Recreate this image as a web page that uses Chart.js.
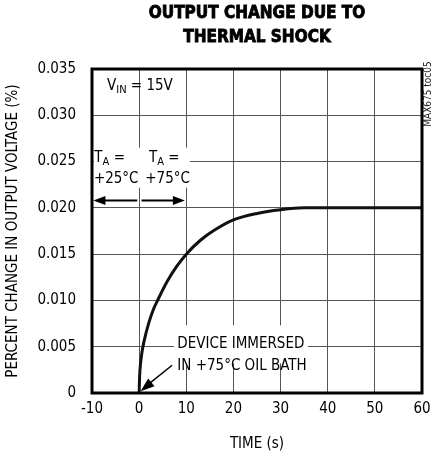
<!DOCTYPE html>
<html>
<head>
<meta charset="utf-8">
<script src="https://cdn.jsdelivr.net/npm/chart.js@4"></script>
<style>
  html, body { margin: 0; padding: 0; background: #fff; }
  #wrap { width: 432px; height: 457px; }
</style>
</head>
<body>
<div id="wrap"><canvas id="thermalChart" width="432" height="457"></canvas></div>
<script>
// Curve: time (s) vs percent change in output voltage.
var timeValues = [0, 0.1, 0.3, 0.6, 1, 2, 3, 4, 6, 8, 10, 13, 16, 20, 25, 30, 35, 40, 50, 60];
var changeValues = [0, 0.0018, 0.0032, 0.0044, 0.0055, 0.0075, 0.0090, 0.0101, 0.0121, 0.0137, 0.0150, 0.0165, 0.0176, 0.0187, 0.0194, 0.0198, 0.0200, 0.0200, 0.0200, 0.0200];
var xTicks = [-10, 0, 10, 20, 30, 40, 50, 60];
var yTicks = [0, 0.005, 0.010, 0.015, 0.020, 0.025, 0.030, 0.035];

var FONT = "'Liberation Sans Narrow', 'DejaVu Sans Condensed', sans-serif";

var points = timeValues.map(function (t, i) {
    return { x: t, y: changeValues[i] };
});

function arrowHead(ctx, x, y, angle, len, half) {
    ctx.save();
    ctx.translate(x, y);
    ctx.rotate(angle);
    ctx.beginPath();
    ctx.moveTo(0, 0);
    ctx.lineTo(-len, -half);
    ctx.lineTo(-len, half);
    ctx.closePath();
    ctx.fill();
    ctx.restore();
}

// Frame, title and annotation text.
var decorPlugin = {
    id: "decor",
    beforeDatasetsDraw: function (chart) {
        var ctx = chart.ctx;
        var xs = chart.scales.x, ys = chart.scales.y;
        ctx.save();
        ctx.fillStyle = "#fff";
        // white boxes behind the labels
        ctx.fillRect(xs.getPixelForValue(-10) + 2, ys.getPixelForValue(0.0265), 96, 40);
        ctx.fillRect(xs.getPixelForValue(7.4), ys.getPixelForValue(0.0073), 134, 38);
        ctx.restore();
    },
    afterDatasetsDraw: function (chart) {
        var ctx = chart.ctx;
        var a = chart.chartArea;
        var xs = chart.scales.x, ys = chart.scales.y;
        ctx.save();

        // plot frame
        ctx.strokeStyle = "#000";
        ctx.lineWidth = 3;
        ctx.strokeRect(a.left, a.top, a.right - a.left, a.bottom - a.top);

        // title (stroked a little to look heavier)
        ctx.fillStyle = "#000";
        ctx.textAlign = "center";
        ctx.textBaseline = "middle";
        ctx.font = "bold 17px 'Liberation Sans Narrow', 'DejaVu Sans Condensed', sans-serif";
        ctx.lineWidth = 0.8;
        var cx = (a.left + a.right) / 2;
        ctx.fillText("OUTPUT CHANGE DUE TO", cx, 14);
        ctx.strokeText("OUTPUT CHANGE DUE TO", cx, 14);
        ctx.fillText("THERMAL SHOCK", cx, 38);
        ctx.strokeText("THERMAL SHOCK", cx, 38);

        // V_IN label
        ctx.textAlign = "left";
        ctx.textBaseline = "alphabetic";
        ctx.font = "15px " + FONT;
        var vx = a.left + 15, vy = ys.getPixelForValue(0.0327);
        ctx.fillText("V", vx, vy);
        var w = ctx.measureText("V").width;
        ctx.font = "11px " + FONT;
        ctx.fillText("IN", vx + w, vy + 3);
        var w2 = ctx.measureText("IN").width;
        ctx.font = "15px " + FONT;
        ctx.fillText(" = 15V", vx + w + w2, vy);

        // T_A labels
        function taLabel(x, y) {
            ctx.font = "15px " + FONT;
            ctx.fillText("T", x, y);
            var tw = ctx.measureText("T").width;
            ctx.font = "11px " + FONT;
            ctx.fillText("A", x + tw, y + 3);
            var aw = ctx.measureText("A").width;
            ctx.font = "15px " + FONT;
            ctx.fillText(" =", x + tw + aw, y);
        }
        var ty1 = ys.getPixelForValue(0.0249);
        var ty2 = ys.getPixelForValue(0.0227);
        taLabel(xs.getPixelForValue(-9.5), ty1);
        taLabel(xs.getPixelForValue(2.1), ty1);
        ctx.font = "15px " + FONT;
        ctx.fillText("+25°C", xs.getPixelForValue(-9.6), ty2);
        ctx.fillText("+75°C", xs.getPixelForValue(1.3), ty2);

        // T_A arrows
        var ay = ys.getPixelForValue(0.0208);
        ctx.strokeStyle = "#000";
        ctx.lineWidth = 2;
        ctx.beginPath();
        ctx.moveTo(xs.getPixelForValue(-0.4), ay);
        ctx.lineTo(xs.getPixelForValue(-8), ay);
        ctx.moveTo(xs.getPixelForValue(0.5), ay);
        ctx.lineTo(xs.getPixelForValue(8), ay);
        ctx.stroke();
        arrowHead(ctx, xs.getPixelForValue(-9.7), ay, Math.PI, 12, 4.5);
        arrowHead(ctx, xs.getPixelForValue(9.7), ay, 0, 12, 4.5);

        // device immersed note
        ctx.font = "15px " + FONT;
        ctx.fillText("DEVICE IMMERSED", xs.getPixelForValue(8.1), ys.getPixelForValue(0.0049));
        ctx.fillText("IN +75°C OIL BATH", xs.getPixelForValue(8.1), ys.getPixelForValue(0.0025));

        var sx = xs.getPixelForValue(7.0), sy = ys.getPixelForValue(0.0030);
        var ex = xs.getPixelForValue(0.3), ey = ys.getPixelForValue(0.0002);
        ctx.lineWidth = 1.5;
        ctx.beginPath();
        ctx.moveTo(sx, sy);
        ctx.lineTo(ex + 8, ey - 7);
        ctx.stroke();
        arrowHead(ctx, ex, ey, Math.atan2(ey - sy, ex - sx), 14, 5);

        // part code on the right edge
        ctx.save();
        ctx.translate(a.right + 6, a.top + 25);
        ctx.rotate(-Math.PI / 2);
        ctx.textAlign = "center";
        ctx.textBaseline = "middle";
        ctx.font = "10px " + FONT;
        ctx.fillStyle = "#222";
        ctx.fillText("MAX675 toc05", 0, 0);
        ctx.restore();

        ctx.restore();
    }
};

new Chart(document.getElementById("thermalChart"), {
    type: "scatter",
    data: {
        datasets: [
            {
                data: points,
                showLine: true,
                borderColor: "#111",
                borderWidth: 3,
                pointRadius: 0,
                cubicInterpolationMode: "monotone",
                fill: false
            }
        ]
    },
    options: {
        responsive: false,
        animation: false,
        layout: { padding: { top: 69, right: 10, left: 0, bottom: 0 } },
        plugins: {
            legend: { display: false },
            tooltip: { enabled: false }
        },
        scales: {
            x: {
                type: "linear",
                min: -10,
                max: 60,
                afterBuildTicks: function (axis) {
                    axis.ticks = xTicks.map(function (v) { return { value: v }; });
                },
                afterFit: function (axis) {
                    axis.height = 64;
                    axis.paddingLeft = 0;
                    axis.paddingRight = 0;
                },
                grid: { color: "#555", lineWidth: 1, drawTicks: false },
                border: { display: false },
                ticks: {
                    color: "#000",
                    font: { family: FONT, size: 15 },
                    padding: 7,
                    maxRotation: 0
                },
                title: {
                    display: true,
                    text: "TIME (s)",
                    color: "#000",
                    font: { family: FONT, size: 15 },
                    padding: { top: 1 }
                }
            },
            y: {
                type: "linear",
                min: 0,
                max: 0.035,
                afterBuildTicks: function (axis) {
                    axis.ticks = yTicks.map(function (v) { return { value: v }; });
                },
                afterFit: function (axis) {
                    axis.width = 92;
                    axis.paddingTop = 0;
                    axis.paddingBottom = 0;
                },
                grid: { color: "#555", lineWidth: 1, drawTicks: false },
                border: { display: false },
                ticks: {
                    color: "#000",
                    font: { family: FONT, size: 15 },
                    padding: 16,
                    callback: function (v) { return v === 0 ? "0" : v.toFixed(3); }
                },
                title: {
                    display: true,
                    text: "PERCENT CHANGE IN OUTPUT VOLTAGE (%)",
                    color: "#000",
                    font: { family: FONT, size: 15 },
                    padding: { bottom: 2 }
                }
            }
        }
    },
    plugins: [decorPlugin]
});
</script>
</body>
</html>
